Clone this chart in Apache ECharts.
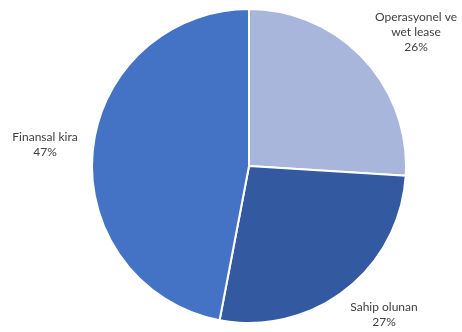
<!DOCTYPE html>
<html>
<head>
<meta charset="utf-8">
<script src="https://cdn.jsdelivr.net/npm/echarts@6/dist/echarts.min.js"></script>
<style>
  html, body { margin: 0; padding: 0; background: #fff; }
  #chart { width: 462px; height: 332px; }
</style>
</head>
<body>
<div id="chart"></div>
<script>
// Slice names and shares (%), clockwise from 12 o'clock
const categories = ['Operasyonel ve\nwet lease', 'Sahip olunan', 'Finansal kira'];
const shares = [26, 27, 47];
const colors = ['#A9B6DC', '#335AA0', '#4472C4'];

// Where each label block is centred on the canvas
const labelAnchors = [[416, 32], [384, 315], [45, 145]];

const chart = echarts.init(document.getElementById('chart'));

chart.setOption({
  animation: false,
  series: [{
    type: 'pie',
    center: [249, 166],
    radius: 157,
    startAngle: 90,
    clockwise: true,
    data: categories.map((name, i) => ({
      name: name,
      value: shares[i],
      itemStyle: { color: colors[i] }
    })),
    itemStyle: { borderColor: '#ffffff', borderWidth: 2 },
    label: {
      show: true,
      position: 'outside',
      formatter: p => p.name + '\n' + p.value + '%',
      color: '#404040',
      fontFamily: 'Lato',
      fontSize: 12,
      lineHeight: 15,
      overflow: 'none',
      align: 'center'
    },
    labelLine: { show: false },
    labelLayout: p => ({
      x: labelAnchors[p.dataIndex][0],
      y: labelAnchors[p.dataIndex][1],
      align: 'center',
      verticalAlign: 'middle'
    })
  }]
});
</script>
</body>
</html>
